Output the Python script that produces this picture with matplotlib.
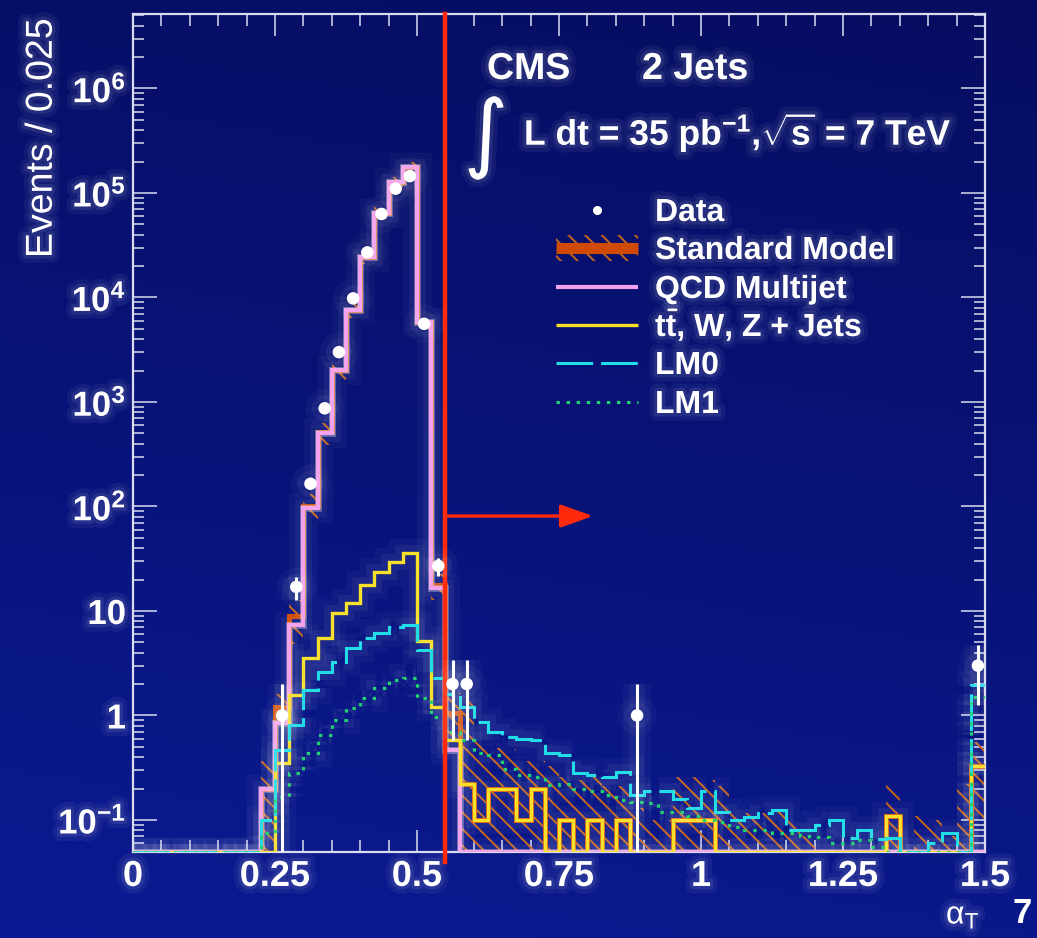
import numpy as np
import matplotlib
matplotlib.use("Agg")
import matplotlib.pyplot as plt
import matplotlib.patheffects as pe
from matplotlib.patches import Rectangle
from matplotlib.ticker import MultipleLocator, LogLocator, NullFormatter

# ---------------- data (events per 0.025 bin, alpha_T from 0 to 1.5) ----------------
bin_width = 0.025
n_bins = 60

qcd = [0, 0, 0, 0, 0, 0, 0, 0, 0,
       0.2, 0.85, 7.3, 97, 505, 2020, 7600, 24500, 64900, 126000, 178000, 5840, 16.6, 0.47,
       0, 0, 0, 0, 0, 0, 0, 0, 0, 0,
       0, 0, 0, 0, 0, 0, 0, 0, 0, 0,
       0, 0, 0, 0, 0, 0, 0, 0, 0, 0,
       0, 0, 0, 0, 0, 0, 0]

ewk = [0, 0, 0, 0, 0, 0, 0, 0, 0, 0,
       0.35, 1.57, 3.55, 5.5, 9.6, 11.9, 17.7, 23.6, 29.4, 35.9, 5.17, 1.2, 0.58, 0.22,
       0.1, 0.2, 0.2, 0.1, 0.2,
       0, 0.1, 0, 0.1, 0, 0.1, 0, 0, 0, 0.1, 0.1, 0.1,
       0, 0, 0, 0, 0, 0, 0, 0, 0, 0, 0, 0,
       0.11, 0, 0, 0, 0, 0, 0.33]

lm0 = [0, 0, 0, 0, 0, 0, 0, 0, 0,
       0.1, 0.47, 0.81, 1.75, 2.6, 3.25, 4.43, 5.5, 6.2, 7.0, 7.3, 4.2, 2.3, 1.6, 1.2,
       0.87, 0.70, 0.62, 0.60, 0.58, 0.44, 0.42, 0.28, 0.27, 0.26, 0.29, 0.175, 0.19,
       0.19, 0.16, 0.13, 0.19, 0.12, 0.1, 0.107, 0.117, 0.125, 0.08, 0.08, 0.09, 0.1,
       0.067, 0.08, 0.066, 0.067, 0, 0, 0.06, 0.075, 0, 1.96]

lm1 = [0, 0, 0, 0, 0, 0, 0, 0, 0,
       0.075, 0.165, 0.28, 0.44, 0.65, 0.9, 1.18, 1.47, 1.84, 2.2, 2.3, 1.47, 0.97, 0.7,
       0.58, 0.44, 0.42, 0.31, 0.27, 0.26, 0.215, 0.22, 0.2, 0.19, 0.175, 0.155, 0.15,
       0.145, 0.12, 0.12, 0.11, 0.1, 0.095, 0.085, 0.08, 0.08, 0.075, 0.075, 0.07, 0.068,
       0.06, 0.06, 0.065, 0.055, 0, 0, 0, 0, 0, 0, 1.5]

sm_err = [0, 0, 0, 0, 0, 0, 0, 0, 0,
          0.17, 0.4, 4, 30, 120, 400, 1200, 3500, 8000, 15000, 20000, 1000, 5, 0.6, 1.2,
          0.48, 0.29, 0.28, 0.27, 0.17, 0.33, 0.16, 0.24, 0.16, 0.21, 0.11, 0.13, 0.1,
          0.1, 0.16, 0.16, 0.14, 0.21, 0.12, 0.117, 0.117, 0.125, 0.1, 0.07,
          0, 0, 0, 0, 0, 0.11, 0, 0.11, 0.1, 0.07, 0.22, 0.23]

data = [0, 0, 0, 0, 0, 0, 0, 0, 0, 0,
        1, 17, 165, 870, 3000, 9800, 27000, 63000, 110000, 145000, 5600, 27, 2, 2,
        0, 0, 0, 0, 0, 0, 0, 0, 0, 0, 0, 1, 0, 0, 0, 0, 0, 0, 0, 0, 0, 0, 0, 0, 0, 0,
        0, 0, 0, 0, 0, 0, 0, 0, 0, 3]

xtick_vals = [0, 0.25, 0.5, 0.75, 1.0, 1.25, 1.5]
xtick_labels = ["0", "0.25", "0.5", "0.75", "1", "1.25", "1.5"]
ytick_vals = [1e-1, 1, 10, 1e2, 1e3, 1e4, 1e5, 1e6]
ytick_labels = [r"$10^{-1}$", "1", "10", r"$10^{2}$", r"$10^{3}$", r"$10^{4}$", r"$10^{5}$", r"$10^{6}$"]

cut_value = 0.55
arrow_end = 0.81
arrow_level = 81

legend_labels = ["Data", "Standard Model", "QCD Multijet",
                 r"t$\mathregular{\bar{t}}$, W, Z + Jets", "LM0", "LM1"]

# ---------------- style ----------------
plt.rcParams["font.family"] = ["Liberation Sans", "DejaVu Sans"]
plt.rcParams["font.weight"] = "bold"
plt.rcParams["mathtext.fontset"] = "custom"
plt.rcParams["mathtext.rm"] = "Liberation Sans:bold"
plt.rcParams["mathtext.it"] = "Liberation Sans:italic:bold"
plt.rcParams["mathtext.bf"] = "Liberation Sans:bold"
plt.rcParams["hatch.linewidth"] = 1.4

C_PINK = "#f4a2ec"
C_YEL = "#f7e02a"
C_CYAN = "#22dde8"
C_GREEN = "#1fd36f"
C_SM = "#cf4b05"
C_HATCH = "#c8641a"
C_RED = "#ff2a0c"
C_FRAME = "#d9dcef"

W, H, DPI = 1037, 938, 100
fig = plt.figure(figsize=(W / DPI, H / DPI), dpi=DPI)

# background gradient (slide)
bg = fig.add_axes([0, 0, 1, 1], zorder=-10)
yy = np.linspace(0, 1, 300)[:, None]
xx = np.linspace(0, 1, 300)[None, :]
c_top = np.array([6, 13, 96]) / 255.0
c_bot = np.array([11, 26, 146]) / 255.0
t = np.clip(0.85 * yy + 0.15 * (1 - xx), 0, 1)[..., None]
bg.imshow(c_top + (c_bot - c_top) * t, extent=[0, 1, 0, 1], aspect="auto", origin="upper")
bg.set_axis_off()

L, R, T, B = 133, 985, 14, 852
ax = fig.add_axes([L / W, (H - B) / H, (R - L) / W, (B - T) / H])
ax.set_facecolor("none")

ymin, ymax = 0.0494, 5.16e6
ax.set_xlim(0, 1.5)
ax.set_yscale("log")
ax.set_ylim(ymin, ymax)

edges = np.arange(n_bins + 1) * bin_width
centers = edges[:-1] + bin_width / 2


def glow(lw, core_white=0.0):
    eff = [pe.Stroke(linewidth=lw + 18, foreground="white", alpha=0.03),
           pe.Stroke(linewidth=lw + 9, foreground="white", alpha=0.05)]
    if core_white > 0:
        eff.append(pe.Stroke(linewidth=lw + 2.0, foreground="white", alpha=core_white))
    eff.append(pe.Normal())
    return eff


qcd_a = np.array(qcd, float)
ewk_a = np.array(ewk, float)
sm = qcd_a + ewk_a
err = np.array(sm_err, float)

band_hi = np.maximum(sm + err, ymin)
band_lo = np.maximum(sm - err, ymin)
ax.stairs(band_hi, edges, baseline=band_lo, fill=True, hatch="\\\\",
          facecolor="none", edgecolor=C_HATCH, linewidth=0, zorder=2)

ax.stairs(np.maximum(sm, ymin), edges, baseline=None, color=C_SM, lw=3.6, zorder=3)

s = ax.stairs(np.maximum(qcd_a, ymin), edges, baseline=None, color=C_PINK, lw=3.0, zorder=4)
s.set_path_effects(glow(3.0, 0.3))
s = ax.stairs(np.maximum(ewk_a, ymin), edges, baseline=None, color=C_YEL, lw=2.4, zorder=5)
s.set_path_effects(glow(2.4))
s = ax.stairs(np.maximum(np.array(lm0), ymin), edges, baseline=None, color=C_CYAN, lw=2.2,
              linestyle=(0, (12, 2.6)), zorder=6)
s.set_path_effects(glow(2.2))
s = ax.stairs(np.maximum(np.array(lm1), ymin), edges, baseline=None, color=C_GREEN, lw=2.2,
              linestyle=(0, (1.1, 2.2)), zorder=7)
s.set_path_effects(glow(2.2))

# cut line and arrow
ax.axvline(cut_value, ymin=-0.012, ymax=1.0, color=C_RED, lw=3.2, zorder=8, clip_on=False)
ax.annotate("", xy=(arrow_end, arrow_level), xytext=(cut_value, arrow_level),
            arrowprops=dict(arrowstyle="-|>,head_length=0.9,head_width=0.32",
                            color=C_RED, lw=2.4, shrinkA=0, shrinkB=0,
                            mutation_scale=22), zorder=8)

# data points
d = np.array(data, float)
m = d > 0
dv = d[m]
sq = np.sqrt(dv)
lower = dv - np.maximum(dv - sq, 1e-4)
eb = ax.errorbar(centers[m], dv, yerr=[lower, sq], fmt="o", color="white", ms=8,
                 mec="white", mfc="white", elinewidth=2.2, capsize=0, zorder=9)
eb[0].set_path_effects(glow(2))
for lc in eb[2]:
    lc.set_path_effects(glow(2.2))

# axes styling
for sp in ax.spines.values():
    sp.set_color(C_FRAME)
    sp.set_linewidth(1.6)
ax.set_xticks(xtick_vals, labels=xtick_labels)
ax.xaxis.set_minor_locator(MultipleLocator(0.05))
ax.set_yticks(ytick_vals, labels=ytick_labels)
ax.yaxis.set_minor_locator(LogLocator(base=10, subs=np.arange(2, 10) * 1.0, numticks=40))
ax.yaxis.set_minor_formatter(NullFormatter())
ax.tick_params(which="both", direction="in", top=True, right=True, colors=C_FRAME,
               labelcolor="white", width=1.1)
ax.tick_params(axis="x", which="major", length=16, labelsize=26, pad=5)
ax.tick_params(axis="x", which="minor", length=8.5)
ax.tick_params(axis="y", which="major", length=17, labelsize=25, pad=5)
ax.tick_params(axis="y", which="minor", length=8)

text_glow = [pe.Stroke(linewidth=11, foreground="white", alpha=0.05),
             pe.Stroke(linewidth=5, foreground="white", alpha=0.08),
             pe.Normal()]
for lab in ax.get_xticklabels() + ax.get_yticklabels():
    lab.set_path_effects(text_glow)

ax.set_ylabel("Events / 0.025", color="white", fontsize=27, loc="top")
ax.yaxis.set_label_coords(-0.086, 0.995)
ax.yaxis.label.set_path_effects(text_glow)
ax.set_xlabel(r"$\mathregular{\alpha}_{\mathregular{T}}$", color="white", fontsize=23, loc="right")
ax.xaxis.set_label_coords(0.994, -0.058)
ax.xaxis.label.set_path_effects(text_glow)


def axf(px, py):
    return ((px - L) / (R - L), (B - py) / (B - T))


tkw = dict(color="white", transform=ax.transAxes, path_effects=text_glow, zorder=12)
ax.text(*axf(487, 79), "CMS", fontsize=27, va="baseline", ha="left", **tkw)
ax.text(*axf(642, 79), "2 Jets", fontsize=27, va="baseline", ha="left", **tkw)
ax.text(*axf(486, 138), "\u222b", fontsize=62, va="center", ha="center",
        family=["DejaVu Sans"], fontweight="normal", **tkw)
ax.text(*axf(524, 145), r"L dt = 35 pb$^{-1}$,$\sqrt{\mathregular{s}}$ = 7 TeV",
        fontsize=25.5, va="baseline", ha="left", **tkw)

# legend (drawn by hand, ROOT style)
row_y = [210, 248, 287, 325, 363, 402]
hx0, hx1, tx = 556, 638, 655
for yc, lab in zip(row_y, legend_labels):
    ax.text(*axf(tx, yc + 11), lab, fontsize=23, va="baseline", ha="left", **tkw)


def hline(yc, **kw):
    (a0, b0), (a1, b1) = axf(hx0, yc), axf(hx1, yc)
    ln, = ax.plot([a0, a1], [b0, b1], transform=ax.transAxes, clip_on=False, zorder=11, **kw)
    return ln


xp, yp = axf((hx0 + hx1) / 2, row_y[0])
ax.plot([xp], [yp], "o", color="white", ms=5.5, transform=ax.transAxes, clip_on=False, zorder=11)
ra, rb = axf(hx0, 261)
ra1, rb1 = axf(hx1, 235)
ax.add_patch(Rectangle((ra, rb), ra1 - ra, rb1 - rb, transform=ax.transAxes, hatch="\\\\",
                       facecolor="none", edgecolor=C_HATCH, linewidth=0, clip_on=False, zorder=10))
hline(row_y[1], color=C_SM, lw=8, solid_capstyle="butt")
hline(row_y[2], color=C_PINK, lw=3.0, solid_capstyle="butt")
hline(row_y[3], color=C_YEL, lw=2.4, solid_capstyle="butt")
hline(row_y[4], color=C_CYAN, lw=2.2, linestyle=(0, (12, 2.6)))
hline(row_y[5], color=C_GREEN, lw=2.2, linestyle=(0, (1.1, 2.2)))

# slide page number
fig.text(1022 / W, 0.016, "7", color="white", fontsize=25, ha="center", va="baseline")

fig.savefig("out.png", dpi=DPI)
